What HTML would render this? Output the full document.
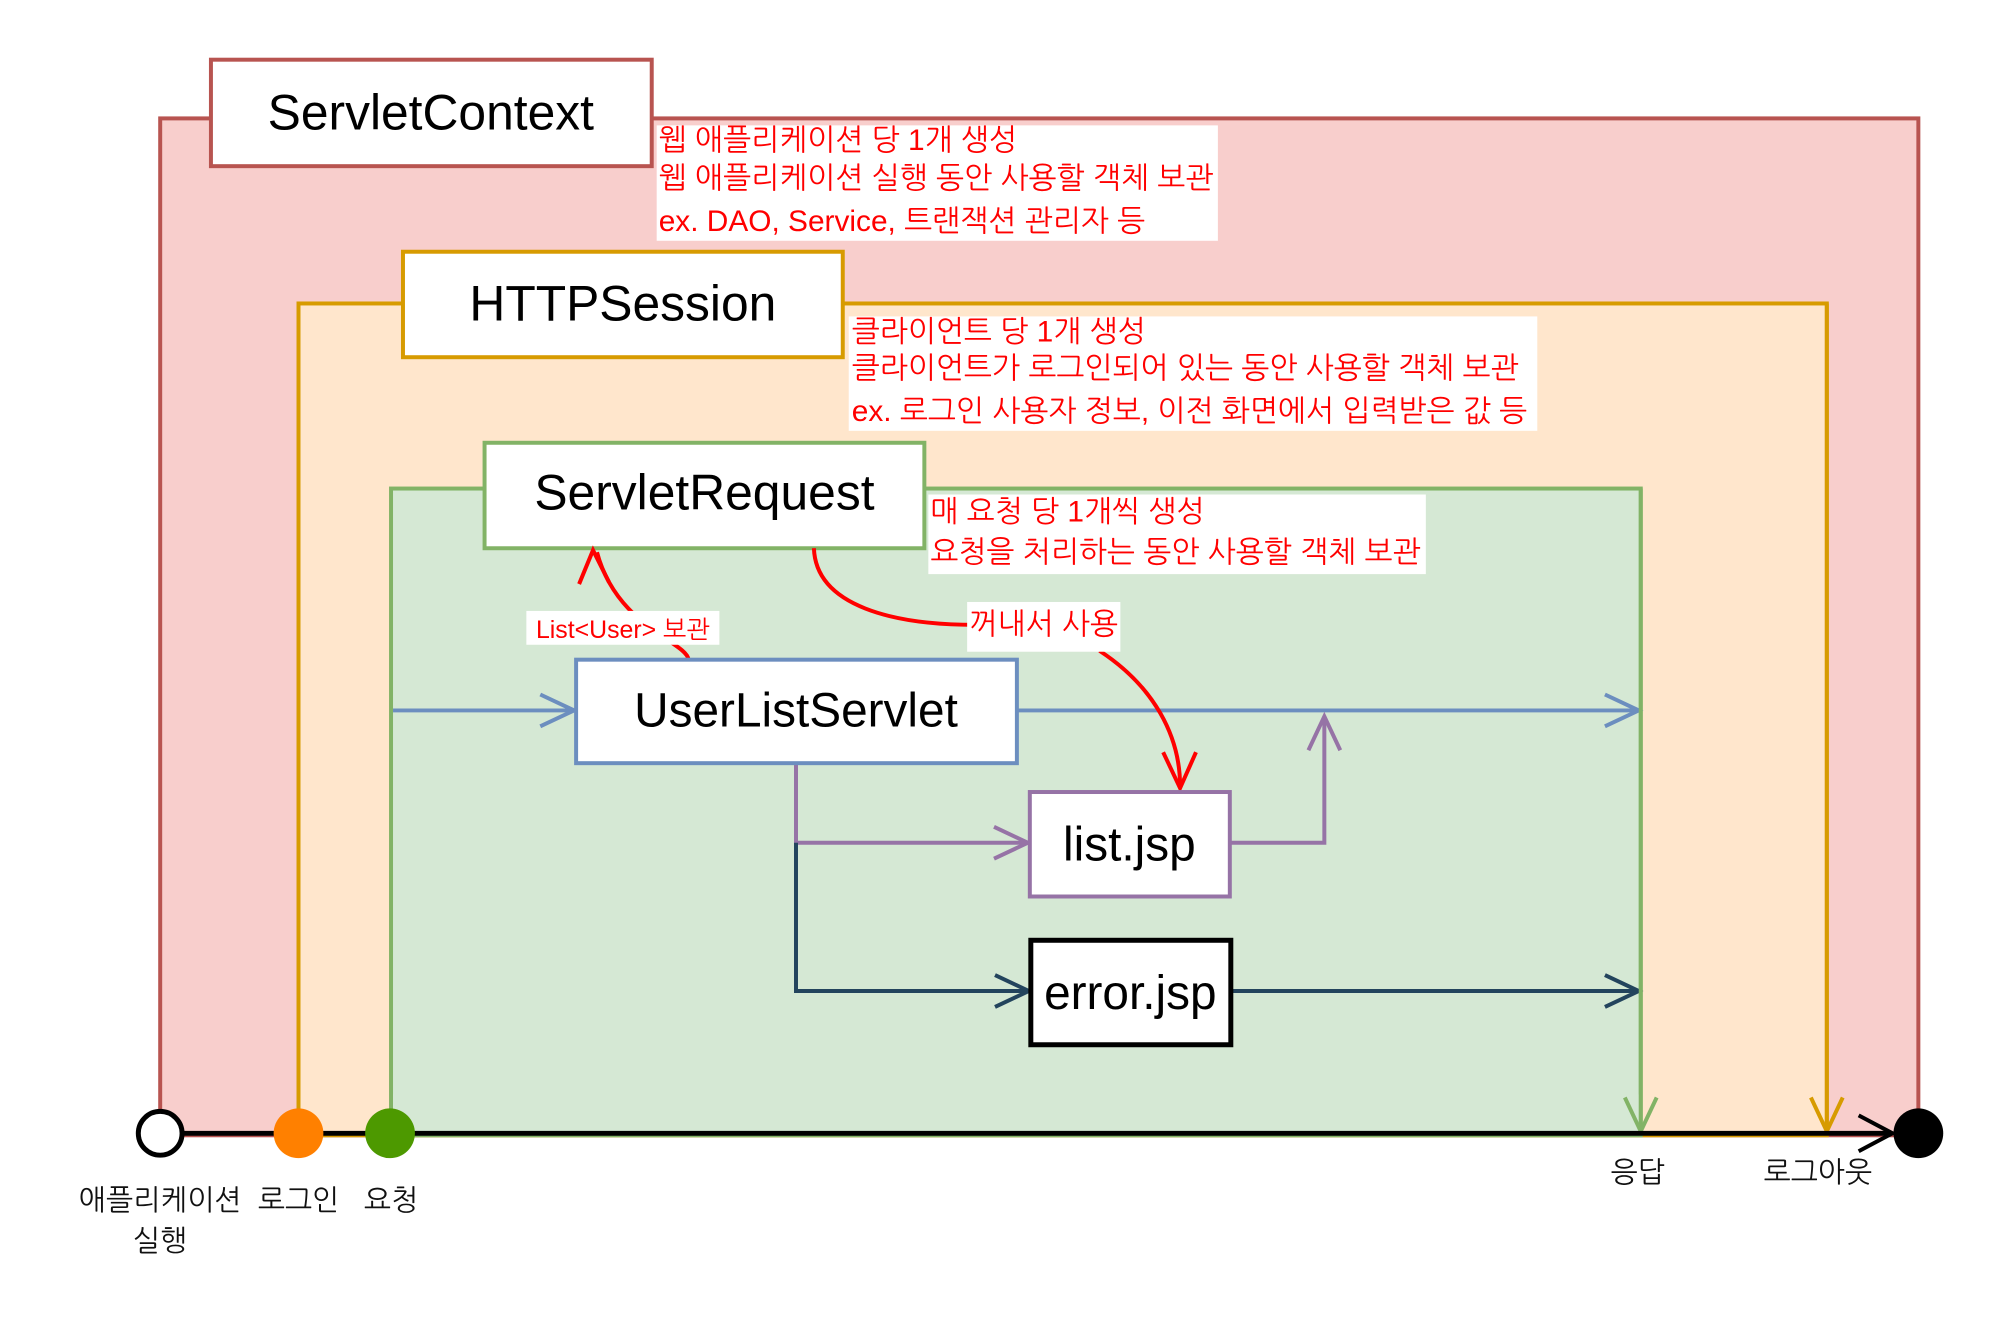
<!DOCTYPE html>
<html><head><meta charset="utf-8"><style>
html,body{margin:0;padding:0;background:#fff}
svg{display:block}
text{font-family:"Liberation Sans","NanumGothic","Noto Sans CJK KR",sans-serif}
</style></head><body>
<svg width="2000" height="1325" viewBox="0 0 2000 1325" xmlns="http://www.w3.org/2000/svg">
<g transform="scale(0.995)">
<!-- regions -->
<rect x="161" y="119" width="1767" height="1022" fill="#f8cecc" stroke="#b85450" stroke-width="4"/>
<rect x="300" y="305" width="1536" height="836" fill="#ffe6cc" stroke="#d79b00" stroke-width="4"/>
<rect x="393" y="491" width="1256" height="650" fill="#d5e8d4" stroke="#82b366" stroke-width="4"/>
<rect x="395" y="1100" width="1252" height="38" fill="#d5e8d4"/>

<!-- label boxes -->
<rect x="212" y="60" width="443" height="107" fill="#fff" stroke="#b85450" stroke-width="4"/>
<text x="433" y="130" font-size="50" text-anchor="middle">ServletContext</text>
<rect x="405" y="253" width="442" height="106" fill="#fff" stroke="#d79b00" stroke-width="4"/>
<text x="626" y="322" font-size="50" text-anchor="middle">HTTPSession</text>
<rect x="487" y="445" width="442" height="106" fill="#fff" stroke="#82b366" stroke-width="4"/>
<text x="708" y="512" font-size="50" text-anchor="middle">ServletRequest</text>

<!-- notes -->
<rect x="660" y="126" width="564" height="116" fill="#fff"/>
<g fill="#ff0000" font-size="30">
<text x="662" y="151">웹 애플리케이션 당 1개 생성</text>
<text x="662" y="189">웹 애플리케이션 실행 동안 사용할 객체 보관</text>
<text x="662" y="232">ex. DAO, Service, 트랜잭션 관리자 등</text>
</g>
<rect x="853" y="318" width="692" height="115" fill="#fff"/>
<g fill="#ff0000" font-size="30">
<text x="856" y="343">클라이언트 당 1개 생성</text>
<text x="856" y="380">클라이언트가 로그인되어 있는 동안 사용할 객체 보관</text>
<text x="856" y="423">ex. 로그인 사용자 정보, 이전 화면에서 입력받은 값 등</text>
</g>
<rect x="933" y="497" width="500" height="80" fill="#fff"/>
<g fill="#ff0000" font-size="30">
<text x="935" y="524">매 요청 당 1개씩 생성</text>
<text x="935" y="565">요청을 처리하는 동안 사용할 객체 보관</text>
</g>

<!-- connectors -->
<g fill="none" stroke-width="4">
<path d="M395 714 H577" stroke="#6c8ebf"/>
<path d="M543 698 L577 714 L543 730" stroke="#6c8ebf"/>
<path d="M1022 714 H1647" stroke="#6c8ebf"/>
<path d="M1613 698 L1647 714 L1613 730" stroke="#6c8ebf"/>
<path d="M800 767 V847 H1033" stroke="#9673a6"/>
<path d="M999 831 L1033 847 L999 863" stroke="#9673a6"/>
<path d="M1236 847 H1331 V720" stroke="#9673a6"/>
<path d="M1315 754 L1331 720 L1347 754" stroke="#9673a6"/>
<path d="M800 847 V996 H1034" stroke="#23445d"/>
<path d="M1000 980 L1034 996 L1000 1012" stroke="#23445d"/>
<path d="M1239 996 H1647" stroke="#23445d"/>
<path d="M1613 980 L1647 996 L1613 1012" stroke="#23445d"/>
<path d="M1649 491 V1137" stroke="#82b366"/>
<path d="M1633 1103 L1649 1137 L1665 1103" stroke="#82b366"/>
<path d="M1836 305 V1137" stroke="#d79b00"/>
<path d="M1820 1103 L1836 1137 L1852 1103" stroke="#d79b00"/>
<!-- red -->
<path d="M692 663 C690 645 620 630 600 555" stroke="#ff0000"/>
<path d="M582 587 L596 553 L612 585" stroke="#ff0000"/>
<path d="M818 551 C820 610 900 628 980 628" stroke="#ff0000"/>
<path d="M1105 654 C1160 690 1186 740 1186 790" stroke="#ff0000"/>
<path d="M1169 756 L1186 792 L1202 756" stroke="#ff0000"/>
</g>
<rect x="529" y="614" width="194" height="34" fill="#fff"/>
<text x="626" y="641" font-size="25" fill="#ff0000" text-anchor="middle">List&lt;User&gt; 보관</text>
<rect x="972" y="605" width="154" height="50" fill="#fff"/>
<text x="1049" y="637" font-size="30" fill="#ff0000" text-anchor="middle">꺼내서 사용</text>

<!-- boxes -->
<rect x="579" y="663" width="443" height="104" fill="#fff" stroke="#6c8ebf" stroke-width="4"/>
<text x="800" y="730" font-size="48" text-anchor="middle">UserListServlet</text>
<rect x="1035" y="796" width="201" height="105" fill="#fff" stroke="#9673a6" stroke-width="4"/>
<text x="1135" y="865" font-size="48" text-anchor="middle">list.jsp</text>
<rect x="1036" y="945" width="201" height="105" fill="#fff" stroke="#000" stroke-width="5"/>
<text x="1136" y="1014" font-size="48" text-anchor="middle">error.jsp</text>

<!-- timeline -->
<path d="M161 1139 H1900" stroke="#000" stroke-width="5" fill="none"/>
<path d="M1868 1121 L1902 1139 L1868 1157" stroke="#000" stroke-width="4" fill="none"/>
<circle cx="161" cy="1139" r="22" fill="#fff" stroke="#000" stroke-width="5"/>
<circle cx="300" cy="1139" r="25" fill="#ff8000"/>
<circle cx="392" cy="1139" r="25" fill="#4d9900"/>
<circle cx="1928" cy="1139" r="25" fill="#000"/>

<g font-size="29" fill="#111" text-anchor="middle">
<text x="161" y="1216">애플리케이션</text>
<text x="161" y="1257">실행</text>
<text x="300" y="1216">로그인</text>
<text x="393" y="1216">요청</text>
<text x="1646" y="1188">응답</text>
<text x="1827" y="1188">로그아웃</text>
</g>
</g>
</svg>
</body></html>
